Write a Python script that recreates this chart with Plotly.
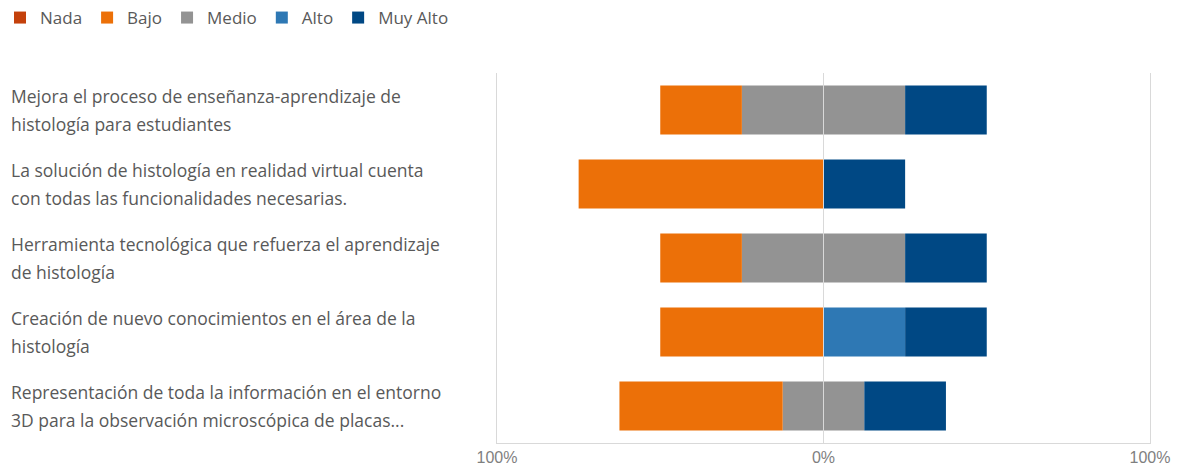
import plotly.graph_objects as go

# Survey items (top to bottom) and share of answers per level
categories = [
    "Mejora el proceso de enseñanza-aprendizaje de<br>histología para estudiantes",
    "La solución de histología en realidad virtual cuenta<br>con todas las funcionalidades necesarias.",
    "Herramienta tecnológica que refuerza el aprendizaje<br>de histología",
    "Creación de nuevo conocimientos en el área de la<br>histología",
    "Representación de toda la información en el entorno<br>3D para la observación microscópica de placas...",
]
nada = [0.0, 0.0, 0.0, 0.0, 0.0]
bajo = [0.25, 0.75, 0.25, 0.50, 0.50]
medio = [0.50, 0.0, 0.50, 0.0, 0.25]
alto = [0.0, 0.0, 0.0, 0.25, 0.0]
muy_alto = [0.25, 0.25, 0.25, 0.25, 0.25]

tick_vals = [-1, 0, 1]
tick_text = ["100%", "0%", "100%"]

colors = {
    "Nada": "#C4410B",
    "Bajo": "#EC7008",
    "Medio": "#939393",
    "Alto": "#2E78B4",
    "Muy Alto": "#004884",
}

W, H = 1182, 468
ML, MR, MT, MB = 497, 32, 73, 25
plot_w = W - ML - MR
plot_h = H - MT - MB

fig = go.Figure()

def add_bar(name, values, sign, show, rank):
    fig.add_trace(go.Bar(
        y=categories, x=[sign * v for v in values], name=name,
        orientation="h", marker=dict(color=colors[name], line=dict(width=0)),
        legendgroup=name, showlegend=show, legendrank=rank,
        hoverinfo="skip",
    ))

# negative side: stacked outward from zero (half of Medio first)
add_bar("Medio", [v / 2 for v in medio], -1, False, 3)
add_bar("Bajo", bajo, -1, True, 2)
add_bar("Nada", nada, -1, True, 1)
# positive side
add_bar("Medio", [v / 2 for v in medio], 1, True, 3)
add_bar("Alto", alto, 1, True, 4)
add_bar("Muy Alto", muy_alto, 1, True, 5)

grid_col = "#d9d9d9"
text_col = "#595959"
label_font = dict(family="Open Sans", size=17.5, color=text_col)

# left-aligned two-line category labels
label_x = (9 - ML) / plot_w
for cat in categories:
    lines = cat.split("<br>")
    for i, line in enumerate(lines):
        fig.add_annotation(
            x=label_x, xref="paper", y=cat, yref="y",
            text=line, showarrow=False, xanchor="left", yanchor="middle",
            yshift=14 - 28 * i, font=label_font,
        )

fig.add_shape(type="line", x0=0, x1=0, xref="x", y0=0, y1=1, yref="paper",
              line=dict(color=grid_col, width=1), layer="above")

fig.update_layout(
    width=W, height=H,
    margin=dict(l=ML, r=MR, t=MT, b=MB, autoexpand=False),
    barmode="relative", bargap=0.34,
    plot_bgcolor="white", paper_bgcolor="white",
    font=dict(family="Open Sans", size=17, color=text_col),
    legend=dict(
        orientation="h", xref="container", yref="container",
        x=-3 / W, xanchor="left", y=1, yanchor="top",
        font=dict(family="Open Sans", size=17, color=text_col),
        itemwidth=30, traceorder="normal",
    ),
    xaxis=dict(
        range=[-1, 1], tickvals=tick_vals, ticktext=tick_text,
        showgrid=True, gridcolor=grid_col, gridwidth=1, zeroline=False,
        showline=True, linecolor=grid_col, linewidth=1,
        tickfont=dict(family="Liberation Sans", size=16, color="#7f7f7f"),
        ticks="", fixedrange=True,
    ),
    yaxis=dict(
        autorange="reversed", showticklabels=False, showgrid=False,
        zeroline=False, showline=True, mirror=True, linecolor=grid_col,
        linewidth=1, fixedrange=True,
    ),
)

fig.write_html("out.html")
